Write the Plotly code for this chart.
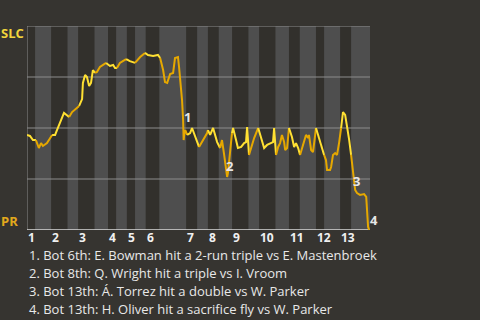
import plotly.graph_objects as go

# ---- data ----
# play index (x) and SLC win probability (y)
play_x = [0.0, 1.1, 2.2, 3.3, 4.4, 5.2, 5.9, 7.4, 9.3, 10.4, 11.1, 12.2, 13.7, 15.6, 16.7,
          19.3, 20.4, 20.7, 21.5, 22.2, 23.0, 23.7, 24.4, 25.2, 25.9, 27.0, 29.3, 30.7, 31.9,
          32.6, 33.3, 34.4, 36.7, 38.1, 40.0, 41.9, 43.7, 44.8, 46.7, 48.5, 49.3, 50.4, 51.1,
          51.9, 53.0, 54.1, 54.8, 55.9, 56.3, 57.0, 57.4, 57.8, 58.0, 58.3, 58.6, 59.3, 60.4,
          61.1, 62.2, 63.7, 65.6, 66.7, 67.0, 67.8, 68.9, 69.6, 70.4, 71.5, 72.2, 73.0, 73.7,
          74.1, 74.4, 75.2, 75.9, 76.3, 77.4, 78.1, 79.3, 80.4, 81.1, 81.5, 82.2, 83.0, 84.1,
          85.6, 86.7, 87.8, 88.9, 90.4, 91.1, 91.5, 92.2, 93.0, 93.7, 94.4, 95.2, 95.6, 96.3,
          96.7, 97.0, 98.1, 98.9, 99.6, 100.4, 101.1, 101.9, 102.6, 103.3, 104.1, 104.4, 105.2,
          105.9, 106.7, 107.0, 108.1, 109.3, 110.0, 110.7, 111.1, 112.2, 112.6, 113.3, 114.1,
          114.8, 115.6, 116.3, 117.0, 117.8, 118.5, 119.3, 120.0, 120.7, 121.1, 121.5, 122.2,
          123.3, 124.8, 125.6, 125.9, 126.3, 126.7]
win_prob = [0.466, 0.461, 0.441, 0.441, 0.402, 0.426, 0.412, 0.426, 0.466, 0.466, 0.490, 0.525,
            0.574, 0.554, 0.578, 0.608, 0.642, 0.721, 0.760, 0.750, 0.706, 0.721, 0.784, 0.770,
            0.775, 0.799, 0.819, 0.804, 0.809, 0.794, 0.794, 0.819, 0.838, 0.828, 0.819, 0.848,
            0.868, 0.858, 0.853, 0.858, 0.843, 0.784, 0.725, 0.721, 0.765, 0.770, 0.843, 0.848,
            0.799, 0.701, 0.637, 0.539, 0.441, 0.480, 0.490, 0.466, 0.475, 0.500, 0.456, 0.407,
            0.451, 0.475, 0.490, 0.466, 0.500, 0.466, 0.431, 0.402, 0.441, 0.368, 0.309, 0.260,
            0.279, 0.407, 0.475, 0.500, 0.441, 0.402, 0.407, 0.426, 0.431, 0.505, 0.368, 0.407,
            0.451, 0.500, 0.451, 0.402, 0.417, 0.426, 0.431, 0.500, 0.368, 0.407, 0.426, 0.466,
            0.431, 0.392, 0.402, 0.475, 0.500, 0.456, 0.407, 0.426, 0.402, 0.368, 0.407, 0.441,
            0.466, 0.451, 0.466, 0.392, 0.382, 0.466, 0.500, 0.451, 0.402, 0.368, 0.343, 0.294,
            0.294, 0.309, 0.368, 0.377, 0.368, 0.431, 0.500, 0.578, 0.564, 0.515, 0.441, 0.368,
            0.294, 0.245, 0.196, 0.181, 0.172, 0.176, 0.162, 0.098, 0.015, 0.0]

# half-inning boundaries (play index): T1, B1, T2, B2, ... B13, end
half_bounds = [0, 3, 9, 15, 19, 25, 30, 33, 37, 40, 44, 49, 59, 63, 67, 71, 76, 82, 86, 92,
               97, 101, 107, 110, 116, 120, 127]
inning_labels = ["1", "2", "3", "4", "5", "6", "7", "8", "9", "10", "11", "12", "13"]

event_labels = ["1", "2", "3", "4"]
event_x = [57.9, 73.4, 120.4, 126.7]
event_y = [0.555, 0.315, 0.240, 0.050]

notes = [
    "1. Bot 6th: E. Bowman hit a 2-run triple vs E. Mastenbroek",
    "2. Bot 8th: Q. Wright hit a triple vs I. Vroom",
    "3. Bot 13th: Á. Torrez hit a double vs W. Parker",
    "4. Bot 13th: H. Oliver hit a sacrifice fly vs W. Parker",
]

home_team = "PR"
away_team = "SLC"

# ---- style ----
BG = "#363430"
DARK_BAND = "#32302c"
LIGHT_BAND = "#4e4e4e"
TOP_COLOR = "#ffe033"
BOT_COLOR = "#e6a800"
FONT = "Open Sans"

fig = go.Figure()

shapes = []
for i in range(len(half_bounds) - 1):
    shapes.append(dict(type="rect", xref="x", yref="y", x0=half_bounds[i], x1=half_bounds[i + 1],
                       y0=0, y1=1, fillcolor=DARK_BAND if i % 2 == 0 else LIGHT_BAND,
                       line=dict(width=0), layer="below"))
for gy in [0.25, 0.5, 0.75, 1.0]:
    shapes.append(dict(type="line", xref="x", yref="y", x0=0, x1=half_bounds[-1], y0=gy, y1=gy,
                       line=dict(color="#8c8c8c", width=1), layer="below"))
shapes.append(dict(type="line", xref="x", yref="y", x0=0, x1=0, y0=0, y1=1,
                   line=dict(color="#8c8c8c", width=1), layer="below"))
shapes.append(dict(type="line", xref="x", yref="y", x0=0, x1=half_bounds[-1], y0=0, y1=0,
                   line=dict(color="#d8d8d8", width=1.5), layer="below"))


def half_index(x):
    for i in range(len(half_bounds) - 1):
        if half_bounds[i] <= x < half_bounds[i + 1]:
            return i
    return len(half_bounds) - 2


# group segments by half-inning colour
groups = []
for k in range(len(play_x) - 1):
    mid = (play_x[k] + play_x[k + 1]) / 2
    top = half_index(mid) % 2 == 0
    if groups and groups[-1][0] == top:
        groups[-1][1].append(k + 1)
    else:
        groups.append([top, [k, k + 1]])

for top, idx in groups:
    fig.add_trace(go.Scatter(
        x=[play_x[j] for j in idx], y=[win_prob[j] for j in idx], mode="lines",
        line=dict(color=TOP_COLOR if top else BOT_COLOR, width=2),
        hoverinfo="skip", showlegend=False))

annotations = []
for lab, ex, ey in zip(event_labels, event_x, event_y):
    annotations.append(dict(x=ex, y=ey, xref="x", yref="y", text=f"<b>{lab}</b>",
                            showarrow=False, xanchor="left", yanchor="middle", borderpad=0,
                            font=dict(family=FONT, size=13, color="#e6e6e6")))

inning_starts = half_bounds[0:-1:2]
for lab, sx in zip(inning_labels, inning_starts):
    annotations.append(dict(x=sx, y=0, xref="x", yref="paper", text=f"<b>{lab}</b>",
                            showarrow=False, xanchor="left", yanchor="middle", xshift=0,
                            yshift=-7, borderpad=0,
                            font=dict(family=FONT, size=12, color="#f0f0f0")))

annotations.append(dict(x=0, y=1, xref="paper", yref="paper", text=f"<b>{away_team}</b>",
                        showarrow=False, xanchor="right", yanchor="middle", xshift=-2, yshift=-7,
                        borderpad=0, font=dict(family=FONT, size=13, color="#f2d53c")))
annotations.append(dict(x=0, y=0, xref="paper", yref="paper", text=f"<b>{home_team}</b>",
                        showarrow=False, xanchor="right", yanchor="middle", xshift=-8, yshift=9,
                        borderpad=0, font=dict(family=FONT, size=13, color="#e2a91c")))

for n, line in enumerate(notes):
    annotations.append(dict(x=0, y=0, xref="paper", yref="paper", text=line, showarrow=False,
                            xanchor="left", yanchor="middle", xshift=1, yshift=-25 - 18 * n,
                            borderpad=0,
                            font=dict(family=FONT, size=13, color="#e8e8e8")))

fig.update_layout(
    width=480, height=320,
    margin=dict(l=27, r=110, t=26, b=90),
    paper_bgcolor=BG, plot_bgcolor=BG,
    xaxis=dict(range=[0, half_bounds[-1]], visible=False, fixedrange=True),
    yaxis=dict(range=[0, 1], visible=False, fixedrange=True),
    shapes=shapes, annotations=annotations, showlegend=False,
)

fig.write_html("out.html")
